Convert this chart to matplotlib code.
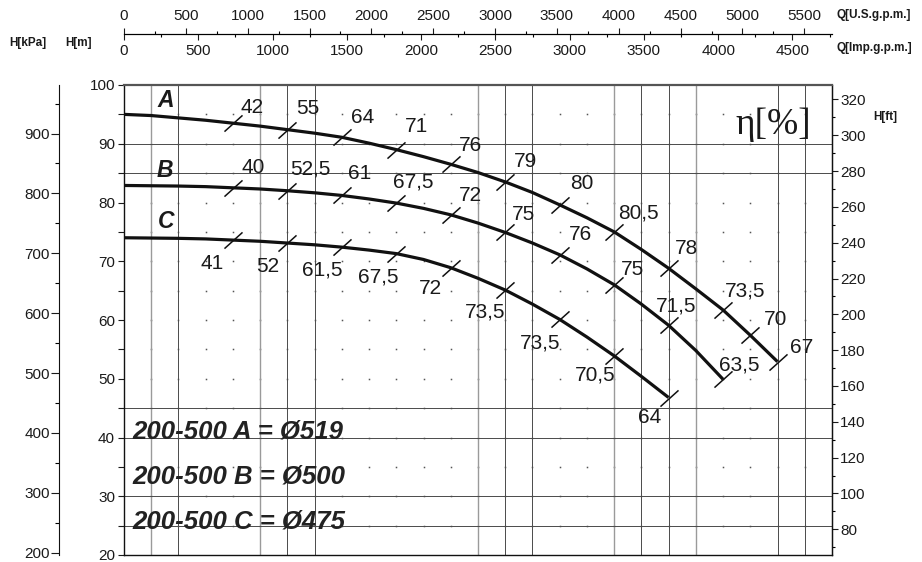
import numpy as np
import matplotlib
matplotlib.use("Agg")
import matplotlib.pyplot as plt
from matplotlib.path import Path
from matplotlib.ticker import MultipleLocator, FixedLocator

plt.rcParams["font.family"] = ["Liberation Sans", "DejaVu Sans"]

W, H = 922, 562
INK = "#1a1a1a"

# head curves, Q in m3/h, H in m
q_a = list(range(0, 1201, 50))
h_a = [95.0, 94.8, 94.4, 94.0, 93.5, 93.0, 92.4, 91.8, 91.1, 90.1, 89.0, 87.8, 86.5,
       85.1, 83.5, 81.7, 79.6, 77.4, 75.0, 72.0, 68.8, 65.3, 61.7, 57.4, 52.9]
q_b = list(range(0, 1101, 50))
h_b = [82.9, 82.85, 82.8, 82.7, 82.5, 82.3, 82.0, 81.65, 81.2, 80.6, 79.9, 79.0,
       77.9, 76.5, 74.9, 73.1, 71.1, 68.7, 66.0, 62.7, 59.1, 54.8, 49.9]
q_c = list(range(0, 1001, 50))
h_c = [74.0, 73.95, 73.9, 73.8, 73.6, 73.4, 73.1, 72.8, 72.4, 71.9, 71.3, 70.3,
       68.9, 67.1, 65.1, 62.7, 60.1, 57.1, 53.9, 50.4, 46.8]

# efficiency marks along each curve
eff_q_a = [200, 300, 400, 500, 600, 700, 800, 900, 1000, 1100, 1150, 1200]
eff_a = ["42", "55", "64", "71", "76", "79", "80", "80,5", "78", "73,5", "70", "67"]
eff_q_b = [200, 300, 400, 500, 600, 700, 800, 900, 1000, 1100]
eff_b = ["40", "52,5", "61", "67,5", "72", "75", "76", "75", "71,5", "63,5"]
eff_q_c = [200, 300, 400, 500, 600, 700, 800, 900, 1000]
eff_c = ["41", "52", "61,5", "67,5", "72", "73,5", "73,5", "70,5", "64"]

impellers = ["A", "B", "C"]
diameters = ["519", "500", "475"]

# scale tick values
h_ticks = [20, 30, 40, 50, 60, 70, 80, 90, 100]
kpa_ticks = [200, 300, 400, 500, 600, 700, 800, 900]
ft_ticks = [80, 100, 120, 140, 160, 180, 200, 220, 240, 260, 280, 300, 320]
us_ticks = [0, 500, 1000, 1500, 2000, 2500, 3000, 3500, 4000, 4500, 5000, 5500]
imp_ticks = [0, 500, 1000, 1500, 2000, 2500, 3000, 3500, 4000, 4500]

# label offsets from the mark, pixels
off_a = [(19, 16), (20, 21), (21, 20), (20, 23), (20, 19), (20, 20), (22, 21),
         (24, 19), (18, 20), (22, 19), (25, 16), (24, 14)]
off_b = [(20, 20), (23, 22), (18, 22), (17, 21), (20, 19), (18, 18), (21, 20),
         (18, 15), (8, 19), (16, 14)]
off_c = [(-21, -23), (-20, -23), (-20, -23), (-18, -23), (-20, -21), (-20, -22),
         (-20, -24), (-19, -19), (-19, -20)]

# grid: solid lines only at some of the 50 m3/h / 5 m steps, dots elsewhere
vlines_light = [50, 250, 650, 900, 1050]
vlines_dark = [100, 300, 350, 700, 750, 950, 1000, 1200, 1250]
hlines = [25, 30, 40, 45, 85, 90]

fig = plt.figure(figsize=(W / 100, H / 100), dpi=100)
ax = fig.add_axes([124 / W, 7 / H, 708 / W, 470 / H])
ax.set_xlim(0, 1300)
ax.set_ylim(20, 100)

gq, gh = np.meshgrid(np.arange(50, 1300, 50), np.arange(25, 100, 5))
ax.plot(gq.ravel(), gh.ravel(), ls="none", marker="s", ms=1.1, mew=0,
        color="#555555", zorder=1)
for q in vlines_light:
    ax.axvline(q, color="#9a9a9a", lw=1.0, zorder=1)
for q in vlines_dark:
    ax.axvline(q, color="#4a4a4a", lw=0.7, zorder=1)
for h in hlines:
    ax.axhline(h, color="#4a4a4a", lw=0.7, zorder=1)

slash = Path([(-0.5, -0.45), (0.5, 0.45)], [Path.MOVETO, Path.LINETO])

curves = [(q_a, h_a, eff_q_a, eff_a, off_a),
          (q_b, h_b, eff_q_b, eff_b, off_b),
          (q_c, h_c, eff_q_c, eff_c, off_c)]
for q, h, mq, labels, offs in curves:
    ax.plot(q, h, color="#111111", lw=2.3, solid_capstyle="butt", zorder=4)
    lookup = dict(zip(q, h))
    mh = [lookup[v] for v in mq]
    ax.plot(mq, mh, ls="none", marker=slash, ms=13, mew=1.1, mec="#111111",
            zorder=5)
    for x, y, t, o in zip(mq, mh, labels, offs):
        ax.annotate(t, (x, y), xytext=o, textcoords="offset pixels",
                    ha="center", va="center", fontsize=15, color=INK, zorder=6)

# curve letters
for name, (x, y) in zip(impellers, [(77, 97.3), (75, 85.5), (77, 76.7)]):
    ax.text(x, y, name, fontsize=16.5, fontweight="bold", fontstyle="italic",
            ha="center", va="center", color=INK, zorder=6)

for i, (name, d) in enumerate(zip(impellers, diameters)):
    ax.text(16, 41.0 - i * 7.65, f"200-500 {name} = Ø{d}", fontsize=18.5,
            fontweight="bold", fontstyle="italic", ha="left", va="center",
            color="#222222", zorder=6)

ax.text(1193, 93.2, "η[%]", fontsize=27, family=["Liberation Serif", "DejaVu Serif"],
        ha="center", va="center", color=INK, zorder=6)

# frame
for s in ["left", "bottom", "right"]:
    ax.spines[s].set_color("#111111")
    ax.spines[s].set_linewidth(1.0)
ax.spines["top"].set_color("#555555")
ax.spines["top"].set_linewidth(1.6)

ax.set_xticks([])
ax.yaxis.set_major_locator(FixedLocator(h_ticks))
ax.yaxis.set_minor_locator(MultipleLocator(5))
ax.tick_params(axis="y", which="both", direction="out", length=4.5, width=0.8,
               pad=2, labelsize=11, colors=INK)

# pressure scale
kpa = ax.secondary_yaxis(-65 / 708, functions=(lambda m: m * 9.81, lambda p: p / 9.81))
kpa.yaxis.set_major_locator(FixedLocator(kpa_ticks))
kpa.yaxis.set_minor_locator(MultipleLocator(50))
kpa.tick_params(which="major", direction="out", length=5.5, width=0.8, pad=1,
                labelsize=11, colors=INK)
kpa.tick_params(which="minor", direction="out", length=3, width=0.8)
kpa.spines["left"].set_color("#111111")

# head in feet
ft = ax.secondary_yaxis("right", functions=(lambda m: m * 3.28084, lambda f: f / 3.28084))
ft.yaxis.set_major_locator(FixedLocator(ft_ticks))
ft.yaxis.set_minor_locator(MultipleLocator(10))
ft.tick_params(which="major", direction="out", length=4, width=0.8, pad=2,
               labelsize=11, colors=INK)
ft.tick_params(which="minor", direction="out", length=2.5, width=0.8)

# flow scales on top
ytop = (555 - 34) / 470
us = ax.secondary_xaxis(ytop, functions=(lambda q: q * 4.4029, lambda g: g / 4.4029))
us.xaxis.set_major_locator(FixedLocator(us_ticks))
us.xaxis.set_minor_locator(MultipleLocator(250))
us.tick_params(which="major", direction="out", length=4, width=0.8, pad=4,
               labelsize=11, colors=INK)
us.tick_params(which="minor", direction="out", length=2.2, width=0.8)

imp = ax.secondary_xaxis(ytop, functions=(lambda q: q * 3.6662, lambda g: g / 3.6662))
imp.set_alignment("bottom")
imp.xaxis.set_major_locator(FixedLocator(imp_ticks))
imp.xaxis.set_minor_locator(MultipleLocator(250))
imp.tick_params(which="major", direction="out", length=4, width=0.8, pad=3,
                labelsize=11, colors=INK)
imp.tick_params(which="minor", direction="out", length=2.2, width=0.8)

# axis titles
def px(x, y):
    return x / W, 1 - y / H

fig.text(*px(28, 43), "H[kPa]", fontsize=8.5, fontweight="bold", ha="center", va="center", color=INK)
fig.text(*px(78, 43), "H[m]", fontsize=8.5, fontweight="bold", ha="center", va="center", color=INK)
fig.text(*px(836, 15), "Q[U.S.g.p.m.]", fontsize=8.5, fontweight="bold", ha="left", va="center", color=INK)
fig.text(*px(836, 48), "Q[Imp.g.p.m.]", fontsize=8.5, fontweight="bold", ha="left", va="center", color=INK)
fig.text(*px(885, 117), "H[ft]", fontsize=8.5, fontweight="bold", ha="center", va="center", color=INK)

fig.savefig("out.png", dpi=100)
